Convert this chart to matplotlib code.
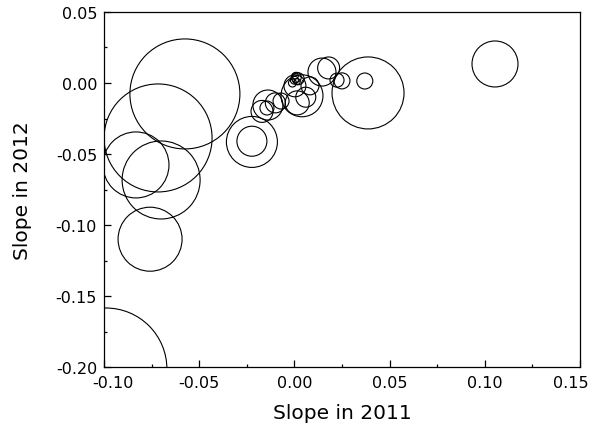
import matplotlib
matplotlib.use('Agg')
import matplotlib.pyplot as plt
from matplotlib.ticker import MultipleLocator, FuncFormatter, FormatStrFormatter

# --- data ---
slope_2011 = [-0.0575, -0.0716, -0.0832, -0.0700, -0.0758, -0.0990,
              -0.0223, -0.0223, 0.1054, 0.0387, 0.0370,
              0.0040, 0.0015, 0.0082, 0.0145, 0.0180, 0.0250, 0.0224,
              -0.0139, -0.0170, -0.0144, -0.0100, -0.0070,
              0.0003, 0.0060,
              0.0000, 0.0010, 0.0015, 0.0005, 0.0020, -0.0010]
slope_2012 = [-0.0077, -0.0387, -0.0577, -0.0683, -0.1100, -0.2014,
              -0.0415, -0.0410, 0.0134, -0.0070, 0.0014,
              -0.0090, -0.0140, -0.0020, 0.0077, 0.0106, 0.0015, 0.0020,
              -0.0155, -0.0200, -0.0176, -0.0140, -0.0127,
              -0.0020, -0.0100,
              0.0020, 0.0040, 0.0010, 0.0050, 0.0030, 0.0000]
# bubble area (points^2)
bubble_size = [6272, 6047, 2258, 3154, 2123, 7716,
               1348, 467, 1097, 2687, 133,
               914, 299, 168, 406, 250, 133, 102,
               467, 250, 102, 207, 133,
               250, 207,
               33, 52, 19, 19, 75, 33]

x_min, x_max = -0.10, 0.15
y_min, y_max = -0.20, 0.05

fig = plt.figure(figsize=(5.96, 4.39), dpi=100)
ax = fig.add_axes([0.1745, 0.1617, 0.7985, 0.8087])

ax.scatter(slope_2011, slope_2012, s=bubble_size, facecolors='none',
           edgecolors='black', linewidths=0.8)

ax.set_xlim(x_min, x_max)
ax.set_ylim(y_min, y_max)
ax.xaxis.set_major_locator(MultipleLocator(0.05))
ax.xaxis.set_minor_locator(MultipleLocator(0.025))
ax.yaxis.set_major_locator(MultipleLocator(0.05))
ax.yaxis.set_minor_locator(MultipleLocator(0.025))


# 両端のラベルは別に描くので空にする
def x_fmt(v, pos):
    if abs(v - x_min) < 1e-9 or abs(v - x_max) < 1e-9:
        return ''
    return f'{v:.2f}'


ax.xaxis.set_major_formatter(FuncFormatter(x_fmt))
ax.yaxis.set_major_formatter(FormatStrFormatter('%.2f'))
ax.tick_params(which='major', direction='in', length=5, width=0.9, labelsize=11.5)
ax.tick_params(which='minor', direction='in', length=2.5, width=0.9)
ax.tick_params(axis='x', which='major', pad=6)
ax.tick_params(axis='y', which='major', pad=5)
ax.tick_params(top=False, right=False, which='both')
for sp in ax.spines.values():
    sp.set_linewidth(0.9)

# 端の目盛ラベル（少し内側へ）
for v, dx in [(x_min, 6.5), (x_max, -6.5)]:
    ax.annotate(f'{v:.2f}', xy=(v, 0), xycoords=('data', 'axes fraction'),
                xytext=(dx, -6), textcoords='offset points',
                ha='center', va='top', fontsize=11.5)

ax.set_xlabel('Slope in 2011', fontsize=14.5, labelpad=9)
ax.set_ylabel('Slope in 2012', fontsize=14.5, labelpad=17)

fig.savefig('out.png', dpi=100)
